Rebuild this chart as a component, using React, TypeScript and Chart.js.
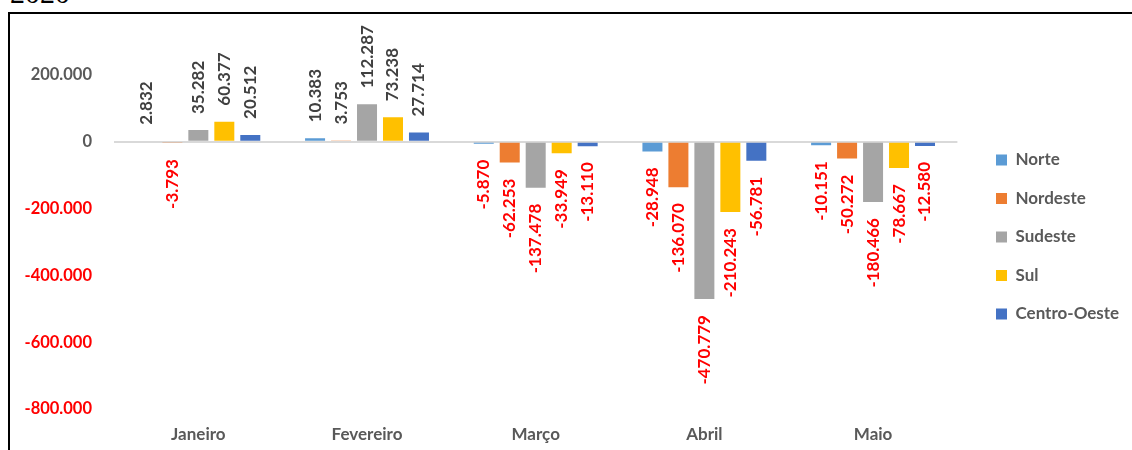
import React, { useEffect, useRef } from "react";
import { Chart, registerables } from "chart.js";

Chart.register(...registerables);

const categories = ["Janeiro", "Fevereiro", "Março", "Abril", "Maio"];
const seriesNames = ["Norte", "Nordeste", "Sudeste", "Sul", "Centro-Oeste"];
const norte = [2832, 10383, -5870, -28948, -10151];
const nordeste = [-3793, 3753, -62253, -136070, -50272];
const sudeste = [35282, 112287, -137478, -470779, -180466];
const sul = [60377, 73238, -33949, -210243, -78667];
const centroOeste = [20512, 27714, -13110, -56781, -12580];
const seriesColors = ["#5B9BD5", "#ED7D31", "#A5A5A5", "#FFC000", "#4472C4"];
const yMin = -800000;
const yMax = 200000;
const yStep = 200000;
const titleText = "2020";

const fmt = (v: number) =>
  (v < 0 ? "-" : "") +
  Math.abs(Math.round(v))
    .toString()
    .replace(/\B(?=(\d{3})+(?!\d))/g, ".");

const FONT = "Lato";
const GRAY = "#595959";
const LABEL_GRAY = "#404040";
const RED = "#FF0000";

const dataLabelPlugin = {
  id: "dataLabels",
  afterDatasetsDraw(chart: any) {
    const ctx = chart.ctx;
    ctx.save();
    ctx.font = `bold 17px ${FONT}`;
    chart.data.datasets.forEach((ds: any, di: number) => {
      const meta = chart.getDatasetMeta(di);
      meta.data.forEach((bar: any, i: number) => {
        const v = ds.data[i];
        const neg = v < 0;
        ctx.save();
        ctx.translate(bar.x, neg ? bar.y + 16 : bar.y - 16);
        ctx.rotate(-Math.PI / 2);
        ctx.textBaseline = "middle";
        ctx.textAlign = neg ? "right" : "left";
        ctx.fillStyle = neg ? RED : LABEL_GRAY;
        ctx.fillText(fmt(v), 0, 0);
        ctx.restore();
      });
    });
    ctx.restore();
  },
};

const legendPlacePlugin = {
  id: "legendPlace",
  beforeDraw(chart: any) {
    const lg = chart.legend;
    if (!lg) return;
    const pad = lg.options.labels.padding;
    lg.left = 986 - pad;
    lg.right = chart.width;
    lg.top = 137.5 - pad;
    lg.bottom = chart.height;
  },
};

export default function App() {
  const ref = useRef<HTMLCanvasElement>(null);
  useEffect(() => {
    if (!ref.current) return;
    const seriesValues = [norte, nordeste, sudeste, sul, centroOeste];
    const chart = new Chart(ref.current, {
      type: "bar",
      data: {
        labels: categories,
        datasets: seriesNames.map((n, k) => ({
          label: n,
          data: seriesValues[k],
          backgroundColor: seriesColors[k],
          borderWidth: 0,
          categoryPercentage: 0.77,
          barPercentage: 0.77,
        })),
      },
      options: {
        responsive: false,
        animation: false,
        layout: { padding: { left: 0, top: 61, right: 54.6, bottom: -9.4 } },
        plugins: {
          title: { display: false },
          tooltip: { enabled: false },
          legend: {
            position: "right",
            align: "start",
            maxWidth: 120,
            labels: {
              boxWidth: 11,
              boxHeight: 11,
              padding: 21.5,
              color: GRAY,
              font: { family: FONT, size: 17, weight: "bold" },
            },
          },
        },
        scales: {
          x: {
            grid: { display: false, drawTicks: false },
            border: { display: false },
            ticks: {
              color: GRAY,
              padding: 15,
              font: { family: FONT, size: 17, weight: "bold" },
            },
          },
          y: {
            min: yMin,
            max: yMax,
            afterFit: (scale: any) => {
              scale.width = 104;
            },
            border: { display: false },
            grid: {
              drawTicks: false,
              lineWidth: 2,
              color: (c: any) => (c.tick && c.tick.value === 0 ? "#D9D9D9" : "rgba(0,0,0,0)"),
            },
            ticks: {
              stepSize: yStep,
              padding: 22,
              font: { family: FONT, size: 16.5, weight: "bold" },
              color: (c: any) => (c.tick && c.tick.value < 0 ? RED : GRAY),
              callback: (v: any) => fmt(Number(v)),
            },
          },
        },
      },
      plugins: [dataLabelPlugin, legendPlacePlugin],
    });
    return () => chart.destroy();
  }, []);

  return (
    <div style={{ position: "fixed", inset: 0, overflow: "hidden", background: "#fff" }}>
      <div
        style={{
          position: "absolute",
          left: 10,
          top: -22,
          fontFamily: '"Liberation Serif", serif',
          fontSize: 30,
          lineHeight: "30px",
          color: "#000",
        }}
      >
        {titleText}
      </div>
      <div
        style={{
          position: "absolute",
          left: 8,
          top: 12,
          width: 1200,
          height: 500,
          border: "2px solid #000",
        }}
      >
        <canvas
          ref={ref}
          width={1122}
          height={436}
          style={{ position: "absolute", left: 0, top: 0, width: 1122, height: 436 }}
        />
      </div>
    </div>
  );
}
